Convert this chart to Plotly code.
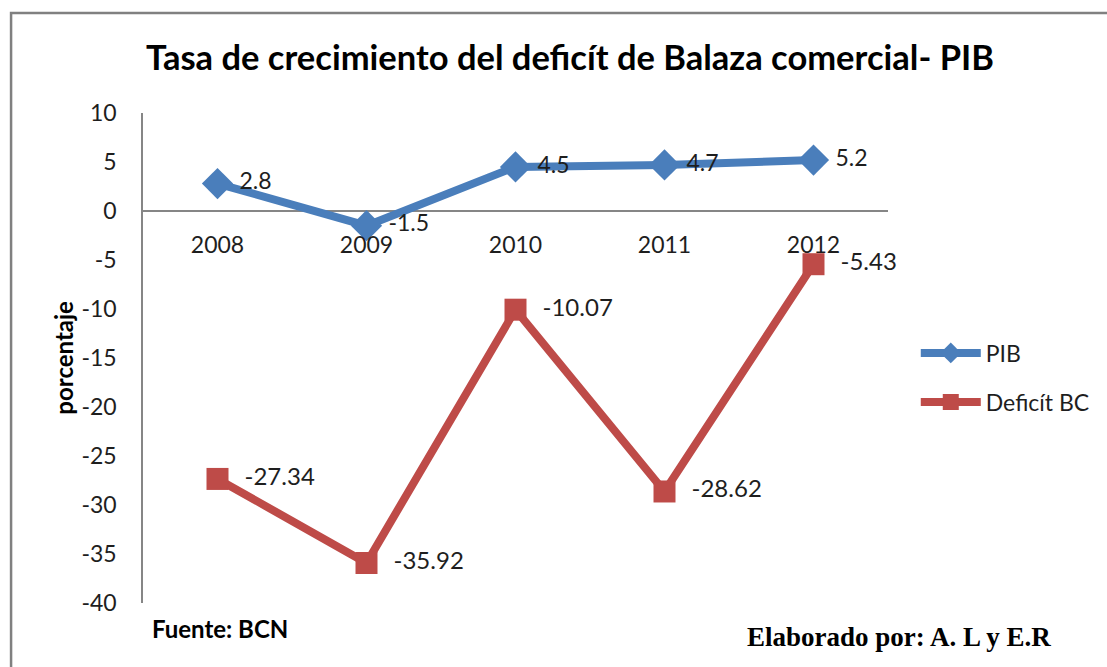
import plotly.graph_objects as go

years = ["2008", "2009", "2010", "2011", "2012"]
pib = [2.8, -1.5, 4.5, 4.7, 5.2]
deficit = [-27.34, -35.92, -10.07, -28.62, -5.43]
pib_labels = ["2.8", "-1.5", "4.5", "4.7", "5.2"]
deficit_labels = ["-27.34", "-35.92", "-10.07", "-28.62", "-5.43"]
y_ticks = [10, 5, 0, -5, -10, -15, -20, -25, -30, -35, -40]
y_tick_text = ["10", "5", "0", "-5", "-10", "-15", "-20", "-25", "-30", "-35", "-40"]

FONT = "Lato"
TXT = "#1e1e1e"
Y_MIN, Y_MAX = -40, 10

# plot area in pixels
L, R, T, B = 143, 894, 113, 603
W, H = 1107, 667
PW, PH = R - L, B - T


def px(x):
    return (x - L) / PW


def py(y):
    return (B - y) / PH


fig = go.Figure()
fig.add_trace(go.Scatter(
    x=years, y=pib, name="PIB", mode="lines+markers+text",
    line=dict(color="#4A7EBB", width=8),
    marker=dict(symbol="diamond", size=24, color="#4A7EBB"),
    text=[" " + t for t in pib_labels], textposition="middle right",
    textfont=dict(family=FONT, size=23, color=TXT),
    cliponaxis=False, legend="legend",
))
fig.add_trace(go.Scatter(
    x=years, y=deficit, name="Deficít BC", mode="lines+markers+text",
    line=dict(color="#BE4B48", width=8),
    marker=dict(symbol="square", size=22, color="#BE4B48"),
    text=["  " + t for t in deficit_labels], textposition="middle right",
    textfont=dict(family=FONT, size=24, color=TXT),
    cliponaxis=False, legend="legend2",
))

legend_common = dict(xanchor="left", yanchor="middle", itemwidth=60,
                     font=dict(family=FONT, size=23, color=TXT),
                     bgcolor="rgba(0,0,0,0)")

fig.update_layout(
    width=W, height=H,
    margin=dict(l=L, r=W - R, t=T, b=H - B),
    paper_bgcolor="white", plot_bgcolor="white",
    font=dict(family=FONT, size=23, color=TXT),
    title=dict(text="<b>Tasa de crecimiento del deficít de Balaza comercial- PIB</b>",
               x=570 / W, xanchor="center", y=1 - 58 / H, yanchor="middle",
               font=dict(family=FONT, size=34.5, color="black")),
    showlegend=True,
    legend=dict(x=px(922), y=py(353), **legend_common),
    legend2=dict(x=px(922), y=py(402), **legend_common),
    xaxis=dict(type="category", range=[-0.5, 4.5], showgrid=False,
               showline=False, ticks="", anchor="free",
               position=(0 - Y_MIN) / (Y_MAX - Y_MIN),
               ticklabelstandoff=18,
               tickfont=dict(family=FONT, size=23, color=TXT)),
    yaxis=dict(range=[Y_MIN, Y_MAX], tickvals=y_ticks, ticktext=y_tick_text,
               showgrid=False,
               showline=True, linecolor="#868686", linewidth=1.5,
               zeroline=True, zerolinecolor="#868686", zerolinewidth=1.5,
               ticks="", ticklabelstandoff=20,
               tickfont=dict(size=23, color=TXT)),
)

fig.add_annotation(x=px(62), y=py(358), xref="paper", yref="paper",
                   text="<b>porcentaje</b>", textangle=-90, showarrow=False,
                   xanchor="center", yanchor="middle",
                   font=dict(family=FONT, size=24, color="black"))

fig.add_annotation(x=px(150), y=py(628), xref="paper", yref="paper",
                   text="<b>Fuente: BCN</b>",
                   showarrow=False, xanchor="left", yanchor="middle",
                   font=dict(family=FONT, size=24, color="black"))
fig.add_annotation(x=px(1060), y=py(637), xref="paper", yref="paper",
                   text="<b>Elaborado por: A. L y E.R</b>",
                   showarrow=False, xanchor="right", yanchor="middle",
                   font=dict(family="Liberation Serif", size=27, color="black"))

# outer frame
fig.add_shape(type="rect", xref="paper", yref="paper",
              x0=px(10), x1=px(1125), y0=py(690), y1=py(13),
              line=dict(color="#808080", width=2.5), fillcolor="rgba(0,0,0,0)")

fig.write_html("out.html", config={"displayModeBar": False},
               post_script="document.body.style.margin='0';document.body.style.overflow='hidden';")
